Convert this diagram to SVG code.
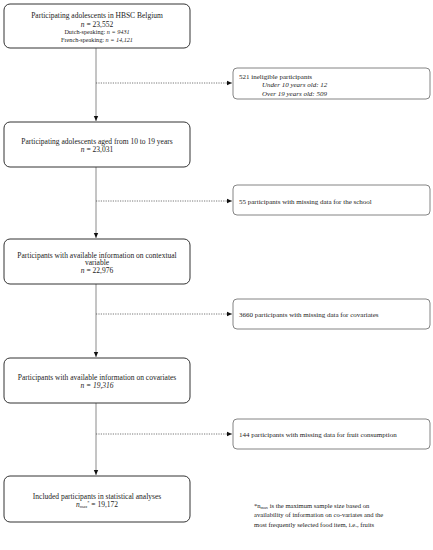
<svg xmlns="http://www.w3.org/2000/svg" width="433" height="550" viewBox="0 0 433 550">
<style>
text{font-family:"Liberation Serif","DejaVu Serif",serif;fill:#222}
.t{font-size:7.5px;text-anchor:middle}
.s{font-size:6.2px;text-anchor:middle}
.r{font-size:7px}
.fn{font-size:6.6px}
.main{fill:#fff;stroke:#333;stroke-width:1}
.side{fill:#fff;stroke:#777;stroke-width:0.9}
.v{stroke:#8a8a8a;stroke-width:1;fill:none}
.d{stroke:#555;stroke-width:0.8;stroke-dasharray:1.2 1.2;fill:none}
</style>
<defs>
<marker id="ah" markerWidth="6" markerHeight="6" refX="5" refY="3" orient="auto" markerUnits="userSpaceOnUse">
<path d="M0,0.8 L5,3 L0,5.2 Z" fill="#111"/>
</marker>
</defs>
<g id="connectors">
<path class="v" d="M96,48 V121" marker-end="url(#ah)"/>
<path class="v" d="M96,167 V238" marker-end="url(#ah)"/>
<path class="v" d="M96,284 V357" marker-end="url(#ah)"/>
<path class="v" d="M96,403 V475" marker-end="url(#ah)"/>
<path class="d" d="M96,83 H232" marker-end="url(#ah)"/>
<path class="d" d="M96,201 H232" marker-end="url(#ah)"/>
<path class="d" d="M96,314 H232" marker-end="url(#ah)"/>
<path class="d" d="M96,434 H232" marker-end="url(#ah)"/>
</g>
<g id="n1">
<rect class="main" x="4" y="4" width="186" height="44" rx="6"/>
<text class="t" x="97" y="17.5">Participating adolescents in HBSC Belgium</text>
<text class="t" x="97" y="26.5"><tspan font-style="italic">n</tspan> = 23,552</text>
<text class="s" x="97" y="34">Dutch-speaking: <tspan font-style="italic">n = 9431</tspan></text>
<text class="s" x="97" y="41.5">French-speaking: <tspan font-style="italic">n = 14,121</tspan></text>
</g>
<g id="n2">
<rect class="main" x="4" y="122" width="186" height="45" rx="6"/>
<text class="t" x="97" y="143.5">Participating adolescents aged from 10 to 19 years</text>
<text class="t" x="97" y="151.5"><tspan font-style="italic">n</tspan> = 23,031</text>
</g>
<g id="n3">
<rect class="main" x="4" y="239" width="186" height="45" rx="6"/>
<text class="t" x="97" y="257.5">Participants with available information on contextual</text>
<text class="t" x="97" y="265">variable</text>
<text class="t" x="97" y="273"><tspan font-style="italic">n</tspan> = 22,976</text>
</g>
<g id="n4">
<rect class="main" x="4" y="358" width="186" height="45" rx="6"/>
<text class="t" x="97" y="379.5">Participants with available information on covariates</text>
<text class="t" x="97" y="387.5" font-style="italic">n = 19,316</text>
</g>
<g id="n5">
<rect class="main" x="4" y="476" width="186" height="46" rx="6"/>
<text class="t" x="97" y="498.5">Included participants in statistical analyses</text>
<text class="t" x="97" y="506.5"><tspan font-style="italic">n</tspan><tspan font-style="italic" font-size="4.5px" dy="1.5">max</tspan><tspan font-size="4.5px" dy="-4">*</tspan><tspan dy="2.5"> = 19,172</tspan></text>
</g>
<g id="r1">
<rect class="side" x="233" y="68" width="197" height="31" rx="4"/>
<text class="r" x="239" y="78.5">521 ineligible participants</text>
<text class="r" x="262" y="87" font-style="italic">Under 10 years old: 12</text>
<text class="r" x="262" y="95.5" font-style="italic">Over 19 years old: 509</text>
</g>
<g id="r2">
<rect class="side" x="233" y="185" width="197" height="30" rx="4"/>
<text class="r" x="239" y="203.5">55 participants with missing data for the school</text>
</g>
<g id="r3">
<rect class="side" x="233" y="299" width="197" height="30" rx="4"/>
<text class="r" x="239" y="316.5">3660 participants with missing data for covariates</text>
</g>
<g id="r4">
<rect class="side" x="233" y="419" width="197" height="30" rx="4"/>
<text class="r" x="239" y="436.5">144 participants with missing data for fruit consumption</text>
</g>
<g id="footnote">
<text class="fn" x="254" y="507.5">*n<tspan font-size="4.3px" dy="1">max</tspan><tspan dy="-1"> is the maximum sample size based on</tspan></text>
<text class="fn" x="254" y="517">availability of information on co-variates and the</text>
<text class="fn" x="254" y="526.5">most frequently selected food item, i.e., fruits</text>
</g>
</svg>
